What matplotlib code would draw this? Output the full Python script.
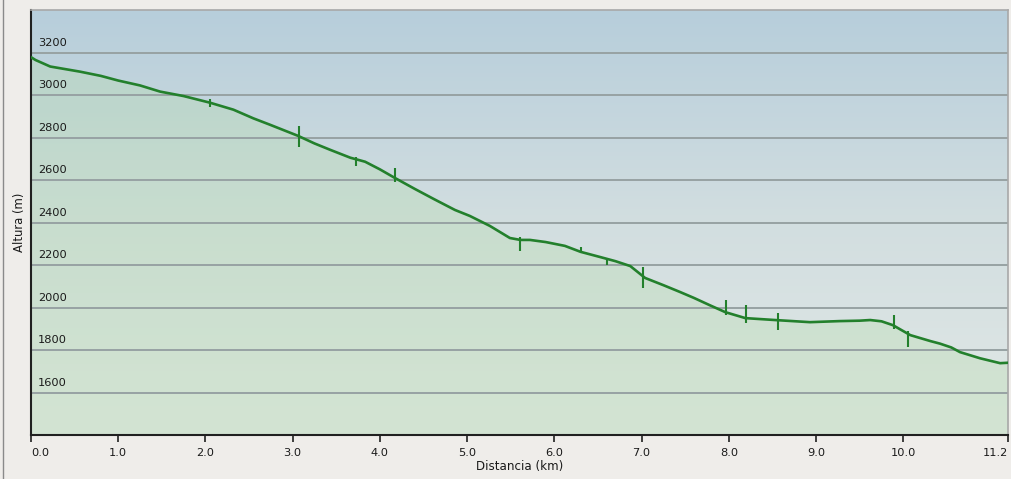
"""
plot.py
Elevation profile (Altura vs Distancia) redrawn with matplotlib.
"""
# Imports
import numpy as np
import matplotlib.pyplot as plt
from matplotlib.colors import LinearSegmentedColormap
from matplotlib.lines import Line2D

# Data - profile
dist_km = [0.0, 0.05, 0.22, 0.56, 0.80, 1.0, 1.25, 1.48, 1.75, 2.05, 2.32,
           2.55, 2.74, 3.06, 3.25, 3.43, 3.66, 3.83, 4.0, 4.17, 4.40, 4.62,
           4.86, 5.03, 5.26, 5.49, 5.61, 5.72, 5.90, 6.12, 6.30, 6.52, 6.70,
           6.87, 7.04, 7.25, 7.44, 7.60, 7.78, 7.96, 8.19, 8.53, 8.93, 9.27,
           9.50, 9.62, 9.75, 9.88, 10.08, 10.31, 10.42, 10.55, 10.65, 10.88,
           11.11, 11.2]
alt_m = [3178, 3165, 3134, 3110, 3090, 3068, 3045, 3016, 2995, 2964, 2931,
         2890, 2860, 2808, 2772, 2742, 2705, 2686, 2650, 2610, 2558, 2510,
         2459, 2431, 2384, 2327, 2318, 2318, 2308, 2290, 2262, 2238, 2218,
         2195, 2139, 2105, 2073, 2045, 2011, 1978, 1950, 1941, 1931, 1936,
         1938, 1941, 1935, 1917, 1870, 1842, 1830, 1812, 1790, 1761, 1738,
         1740]

# GPS glitches drawn as short vertical spikes: position, top, bottom
spike_km = [2.05, 3.07, 3.73, 4.17, 5.60, 6.30, 6.60, 7.02, 7.97, 8.20, 8.56,
            9.89, 10.05]
spike_top = [2983, 2856, 2710, 2657, 2332, 2285, 2228, 2190, 2035, 2012, 1974,
             1964, 1889]
spike_bottom = [2945, 2757, 2667, 2592, 2266, 2262, 2200, 2092, 1964, 1927,
                1893, 1898, 1813]

x_ticks = [0, 1, 2, 3, 4, 5, 6, 7, 8, 9, 10, 11.2]
x_tick_labels = ['0.0', '1.0', '2.0', '3.0', '4.0', '5.0', '6.0', '7.0',
                 '8.0', '9.0', '10.0', '11.2']
y_grid = [1600, 1800, 2000, 2200, 2400, 2600, 2800, 3000, 3200]

# Figure
fig = plt.figure(figsize=(10.11, 4.79), dpi=100, facecolor='#efedea')
ax = fig.add_axes([31 / 1011, 1 - 435 / 479, 977 / 1011, 425 / 479])
ax.set_xlim(0, 11.2)
ax.set_ylim(1400, 3400)

# Background gradient (blue at top fading to pale at bottom)
bg_cmap = LinearSegmentedColormap.from_list(
    'bg', ['#e1e8e6', '#d2dee0', '#b7cedb'])
grad = np.linspace(0, 1, 256).reshape(-1, 1)
ax.imshow(grad, aspect='auto', cmap=bg_cmap, origin='lower',
          extent=[0, 11.2, 1400, 3400], zorder=0)

# Green fill under the profile
ax.fill_between(dist_km, alt_m, 1400, color='#b1dca2', alpha=0.28,
                lw=0, zorder=1)

# Grid lines
for g in y_grid:
    ax.axhline(g, color='#97a2a3', lw=1.4, zorder=2)
    ax.text(0.08, g + 22, str(g), fontsize=8.2, color='#1a1a1a',
            ha='left', va='bottom', zorder=5)

# Profile line and spikes
ax.plot(dist_km, alt_m, color='#23802c', lw=1.9, zorder=4,
        solid_joinstyle='round')
ax.vlines(spike_km, spike_bottom, spike_top, color='#23802c', lw=1.5,
          zorder=4)

# Axes styling
ax.set_yticks([])
ax.set_xticks(x_ticks)
ax.set_xticklabels(x_tick_labels, fontsize=8.2, color='#1a1a1a')
labels = ax.get_xticklabels()
labels[0].set_horizontalalignment('left')
labels[-1].set_horizontalalignment('right')
ax.tick_params(axis='x', direction='out', length=5, width=1.2,
               color='#202020', pad=4)
for side in ['top', 'right']:
    ax.spines[side].set_color('#a8a8a8')
    ax.spines[side].set_linewidth(1.2)
for side in ['left', 'bottom']:
    ax.spines[side].set_color('#202020')
    ax.spines[side].set_linewidth(1.5)

ax.set_xlabel('Distancia (km)', fontsize=8.6, color='#1a1a1a', labelpad=2)
fig.text(20 / 1011, 1 - 222 / 479, 'Altura (m)', fontsize=8.4,
         color='#1a1a1a', rotation=90, ha='center', va='center')

# Frame line at the left edge of the picture
fig.add_artist(Line2D([2.5 / 1011, 2.5 / 1011], [0, 1], color='#8a8a8a',
                      lw=1.0, transform=fig.transFigure))

fig.savefig('out.png', dpi=100, facecolor=fig.get_facecolor())
